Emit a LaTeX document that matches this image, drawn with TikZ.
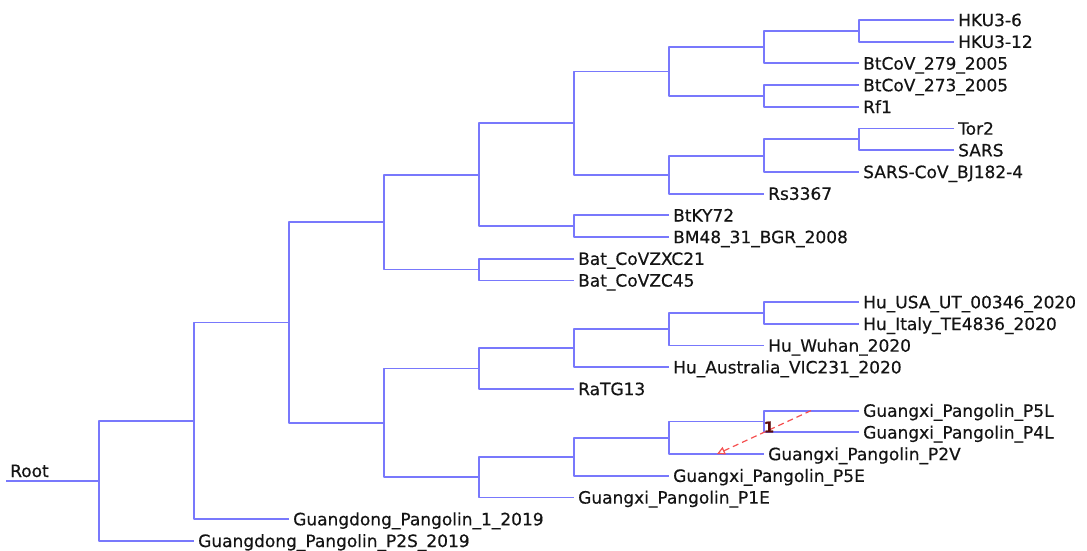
\documentclass[tikz,border=0pt]{standalone}
\usepackage{fontspec}
\setmainfont{DejaVu Sans}[FakeBold=0.5]
\usetikzlibrary{calc,arrows.meta}
\definecolor{branch}{RGB}{120,120,252}
\definecolor{redline}{RGB}{245,80,80}
\definecolor{darkred}{RGB}{90,10,10}
\tikzset{
  br/.style={draw=branch, line width=1.8pt, line join=round},
  lbl/.style={anchor=west, inner sep=0pt, xshift=4pt, text=black!92,
    font=\fontsize{17}{20}\selectfont, text height=12.4pt, text depth=0pt},
}
\begin{document}
\begin{tikzpicture}[x=1pt,y=-1pt]
\useasboundingbox (0,0) rectangle (1087,551);
% leaf end points (x = end of branch, y = row)
\coordinate (l0)  at (954, 20.0);
\coordinate (l1)  at (954, 41.7);
\coordinate (l2)  at (859, 63.4);
\coordinate (l3)  at (859, 85.1);
\coordinate (l4)  at (859,106.8);
\coordinate (l5)  at (954,128.5);
\coordinate (l6)  at (954,150.2);
\coordinate (l7)  at (859,171.9);
\coordinate (l8)  at (764,193.6);
\coordinate (l9)  at (669,215.3);
\coordinate (l10) at (669,237.0);
\coordinate (l11) at (574,258.7);
\coordinate (l12) at (574,280.4);
\coordinate (l13) at (859,302.1);
\coordinate (l14) at (859,323.8);
\coordinate (l15) at (764,345.5);
\coordinate (l16) at (669,367.2);
\coordinate (l17) at (574,388.9);
\coordinate (l18) at (859,410.6);
\coordinate (l19) at (859,432.3);
\coordinate (l20) at (764,454.0);
\coordinate (l21) at (669,475.7);
\coordinate (l22) at (574,497.4);
\coordinate (l23) at (289,519.1);
\coordinate (l24) at (194,540.8);
% internal nodes
\coordinate (n21) at ($(l0)!0.5!(l1)+(-95,0)$);
\coordinate (n19) at ($(n21)!0.5!(l2)+(-95,0)$);
\coordinate (n20) at ($(l3)!0.5!(l4)+(-95,0)$);
\coordinate (n17) at ($(n19)!0.5!(n20)+(-95,0)$);
\coordinate (n23) at ($(l5)!0.5!(l6)+(-95,0)$);
\coordinate (n22) at ($(n23)!0.5!(l7)+(-95,0)$);
\coordinate (n18) at ($(n22)!0.5!(l8)+(-95,0)$);
\coordinate (n15) at ($(n17)!0.5!(n18)+(-95,0)$);
\coordinate (n16) at ($(l9)!0.5!(l10)+(-95,0)$);
\coordinate (n13) at ($(n15)!0.5!(n16)+(-95,0)$);
\coordinate (n14) at ($(l11)!0.5!(l12)+(-95,0)$);
\coordinate (n3)  at ($(n13)!0.5!(n14)+(-95,0)$);
\coordinate (n12) at ($(l13)!0.5!(l14)+(-95,0)$);
\coordinate (n11) at ($(n12)!0.5!(l15)+(-95,0)$);
\coordinate (n10) at ($(n11)!0.5!(l16)+(-95,0)$);
\coordinate (n5)  at ($(n10)!0.5!(l17)+(-95,0)$);
\coordinate (n9)  at ($(l18)!0.5!(l19)+(-95,0)$);
\coordinate (n8)  at ($(n9)!0.5!(l20)+(-95,0)$);
\coordinate (n7)  at ($(n8)!0.5!(l21)+(-95,0)$);
\coordinate (n6)  at ($(n7)!0.5!(l22)+(-95,0)$);
\coordinate (n4)  at ($(n5)!0.5!(n6)+(-95,0)$);
\coordinate (n2)  at ($(n3)!0.5!(n4)+(-95,0)$);
\coordinate (n1)  at ($(n2)!0.5!(l23)+(-95,0)$);
\coordinate (rt)  at ($(n1)!0.5!(l24)+(-95,0)$);
\coordinate (rs)  at (6,0 |- rt);
% branches
\draw[br] (l0) -| (n21) |- (l1);
\draw[br] (n21) -| (n19) |- (l2);
\draw[br] (l3) -| (n20) |- (l4);
\draw[br] (n19) -| (n17) |- (n20);
\draw[br] (l5) -| (n23) |- (l6);
\draw[br] (n23) -| (n22) |- (l7);
\draw[br] (n22) -| (n18) |- (l8);
\draw[br] (n17) -| (n15) |- (n18);
\draw[br] (l9) -| (n16) |- (l10);
\draw[br] (n15) -| (n13) |- (n16);
\draw[br] (l11) -| (n14) |- (l12);
\draw[br] (n13) -| (n3) |- (n14);
\draw[br] (l13) -| (n12) |- (l14);
\draw[br] (n12) -| (n11) |- (l15);
\draw[br] (n11) -| (n10) |- (l16);
\draw[br] (n10) -| (n5) |- (l17);
\draw[br] (l18) -| (n9) |- (l19);
\draw[br] (n9) -| (n8) |- (l20);
\draw[br] (n8) -| (n7) |- (l21);
\draw[br] (n7) -| (n6) |- (l22);
\draw[br] (n5) -| (n4) |- (n6);
\draw[br] (n3) -| (n2) |- (n4);
\draw[br] (n2) -| (n1) |- (l23);
\draw[br] (n1) -| (rt) |- (l24);
\draw[br] (rs) -- (rt);
% labels
\node[lbl] (t0)  at (l0)  {HKU3-6};
\node[lbl] (t1)  at (l1)  {HKU3-12};
\node[lbl] (t2)  at (l2)  {BtCoV\_279\_2005};
\node[lbl] (t3)  at (l3)  {BtCoV\_273\_2005};
\node[lbl] (t4)  at (l4)  {Rf1};
\node[lbl] (t5)  at (l5)  {Tor2};
\node[lbl] (t6)  at (l6)  {SARS};
\node[lbl] (t7)  at (l7)  {SARS-CoV\_BJ182-4};
\node[lbl] (t8)  at (l8)  {Rs3367};
\node[lbl] (t9)  at (l9)  {BtKY72};
\node[lbl] (t10) at (l10) {BM48\_31\_BGR\_2008};
\node[lbl] (t11) at (l11) {Bat\_CoVZXC21};
\node[lbl] (t12) at (l12) {Bat\_CoVZC45};
\node[lbl] (t13) at (l13) {Hu\_USA\_UT\_00346\_2020};
\node[lbl] (t14) at (l14) {Hu\_Italy\_TE4836\_2020};
\node[lbl] (t15) at (l15) {Hu\_Wuhan\_2020};
\node[lbl] (t16) at (l16) {Hu\_Australia\_VIC231\_2020};
\node[lbl] (t17) at (l17) {RaTG13};
\node[lbl] (t18) at (l18) {Guangxi\_Pangolin\_P5L};
\node[lbl] (t19) at (l19) {Guangxi\_Pangolin\_P4L};
\node[lbl] (t20) at (l20) {Guangxi\_Pangolin\_P2V};
\node[lbl] (t21) at (l21) {Guangxi\_Pangolin\_P5E};
\node[lbl] (t22) at (l22) {Guangxi\_Pangolin\_P1E};
\node[lbl] (t23) at (l23) {Guangdong\_Pangolin\_1\_2019};
\node[lbl] (t24) at (l24) {Guangdong\_Pangolin\_P2S\_2019};
\node[anchor=base west, inner sep=0pt, text=black!92, font=\fontsize{17}{20}\selectfont] (troot) at (10,477) {Root};
% transfer arrow
\coordinate (hs) at (811,410.6);
\coordinate (he) at (717,454);
\draw[draw=redline, line width=1.2pt, dash pattern=on 6pt off 4pt,
  -{Triangle[open, length=8pt, width=8pt]}] (hs) -- (he);
\node[anchor=center, inner sep=0pt, text=darkred, font=\bfseries\fontsize{15}{18}\selectfont] (hl) at (769,427) {1};
\end{tikzpicture}
\end{document}
